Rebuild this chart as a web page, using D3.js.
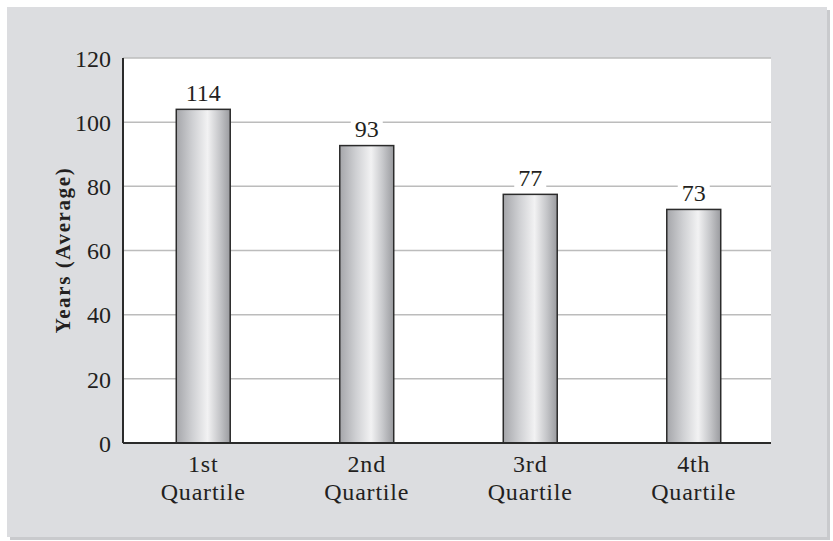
<!DOCTYPE html>
<html>
<head>
<meta charset="utf-8">
<script src="https://cdn.jsdelivr.net/npm/d3@7"></script>
<style>
  html, body { margin: 0; padding: 0; background: #ffffff; }
  svg { display: block; }
</style>
</head>
<body>
<svg></svg>
<script>
const width = 833;
const height = 541;

// Chart data
const categories = ["1st Quartile", "2nd Quartile", "3rd Quartile", "4th Quartile"];
const values = [104, 92.7, 77.5, 72.8];
const valueLabels = ["114", "93", "77", "73"];
const yTicks = [0, 20, 40, 60, 80, 100, 120];

const serif = "'Liberation Serif', 'Times New Roman', serif";

const svg = d3.select("svg")
    .attr("width", width)
    .attr("height", height);

// Plot area bounds
const plot = { left: 123, right: 771, top: 58, bottom: 443 };

// Gray backing panel with a small drop shadow
svg.append("rect")
    .attr("x", 10).attr("y", 10)
    .attr("width", 820).attr("height", 530)
    .attr("fill", "#c9cacd");
svg.append("rect")
    .attr("x", 7).attr("y", 7)
    .attr("width", 820).attr("height", 530)
    .attr("fill", "#dcdde0");

// White plot area
svg.append("rect")
    .attr("x", plot.left).attr("y", plot.top)
    .attr("width", plot.right - plot.left)
    .attr("height", plot.bottom - plot.top)
    .attr("fill", "#ffffff");

// Scales
const x = d3.scaleBand()
    .domain(categories)
    .range([121.5, 775.5])
    .paddingInner(0.67)
    .paddingOuter(0.335);

const y = d3.scaleLinear()
    .domain([0, 120])
    .range([plot.bottom, plot.top]);

// Bar gradient (metallic cylinder look)
const grad = svg.append("defs").append("linearGradient")
    .attr("id", "barGrad")
    .attr("x1", "0%").attr("x2", "100%")
    .attr("y1", "0%").attr("y2", "0%");
grad.append("stop").attr("offset", "0%").attr("stop-color", "#a5a6aa");
grad.append("stop").attr("offset", "30%").attr("stop-color", "#cfd0d3");
grad.append("stop").attr("offset", "58%").attr("stop-color", "#f2f2f3");
grad.append("stop").attr("offset", "80%").attr("stop-color", "#c6c7ca");
grad.append("stop").attr("offset", "100%").attr("stop-color", "#9a9b9f");

// Gridlines
svg.append("g")
    .selectAll("line")
    .data(yTicks.filter(d => d > 0))
    .join("line")
    .attr("x1", plot.left).attr("x2", plot.right)
    .attr("y1", d => y(d)).attr("y2", d => y(d))
    .attr("stroke", "#bcbcbc")
    .attr("stroke-width", 1.5);

// Y axis (labels only, line drawn separately)
const yAxis = svg.append("g")
    .attr("transform", `translate(${plot.left},0)`)
    .call(d3.axisLeft(y).tickValues(yTicks).tickSize(0).tickPadding(12));
yAxis.select(".domain").remove();
yAxis.selectAll("text")
    .attr("font-family", serif)
    .attr("font-size", "24px")
    .attr("fill", "#231f20")
    .attr("dy", "0.34em");

// Bars
svg.append("g")
    .selectAll("rect")
    .data(values)
    .join("rect")
    .attr("x", (d, i) => x(categories[i]))
    .attr("y", d => y(d))
    .attr("width", x.bandwidth())
    .attr("height", d => y(0) - y(d))
    .attr("fill", "url(#barGrad)")
    .attr("stroke", "#2b2b2b")
    .attr("stroke-width", 1.5);

// Value labels with white backing
const labels = svg.append("g")
    .selectAll("g")
    .data(values)
    .join("g");
labels.each(function(d, i) {
    const g = d3.select(this);
    const t = g.append("text")
        .attr("x", x(categories[i]) + x.bandwidth() / 2)
        .attr("y", y(d) - 8.5)
        .attr("text-anchor", "middle")
        .attr("font-family", serif)
        .attr("font-size", "24px")
        .attr("fill", "#231f20")
        .text(valueLabels[i]);
    const b = t.node().getBBox();
    g.insert("rect", "text")
        .attr("x", b.x - 4).attr("y", b.y + 3)
        .attr("width", b.width + 8).attr("height", b.height - 3)
        .attr("fill", "#ffffff");
});

// Axis lines
svg.append("line")
    .attr("x1", plot.left).attr("x2", plot.left)
    .attr("y1", plot.top).attr("y2", plot.bottom)
    .attr("stroke", "#2b2b2b").attr("stroke-width", 2);
svg.append("line")
    .attr("x1", plot.left).attr("x2", plot.right)
    .attr("y1", plot.bottom).attr("y2", plot.bottom)
    .attr("stroke", "#2b2b2b").attr("stroke-width", 2);

// Category labels, two lines each
svg.append("g")
    .selectAll("text")
    .data(categories)
    .join("text")
    .attr("x", d => x(d) + x.bandwidth() / 2)
    .attr("y", 472)
    .attr("text-anchor", "middle")
    .attr("font-family", serif)
    .attr("font-size", "24px")
    .attr("letter-spacing", "0.8px")
    .attr("fill", "#231f20")
    .each(function(d) {
        const parts = d.split(" ");
        const t = d3.select(this);
        t.append("tspan").attr("x", t.attr("x")).attr("dy", 0).text(parts[0]);
        t.append("tspan").attr("x", t.attr("x")).attr("dy", 28).text(parts[1]);
    });

// Y axis title
svg.append("text")
    .attr("transform", `translate(70,250) rotate(-90)`)
    .attr("text-anchor", "middle")
    .attr("font-family", serif)
    .attr("font-size", "21px")
    .attr("font-weight", "bold")
    .attr("letter-spacing", "1.6px")
    .attr("fill", "#231f20")
    .text("Years (Average)");
</script>
</body>
</html>
